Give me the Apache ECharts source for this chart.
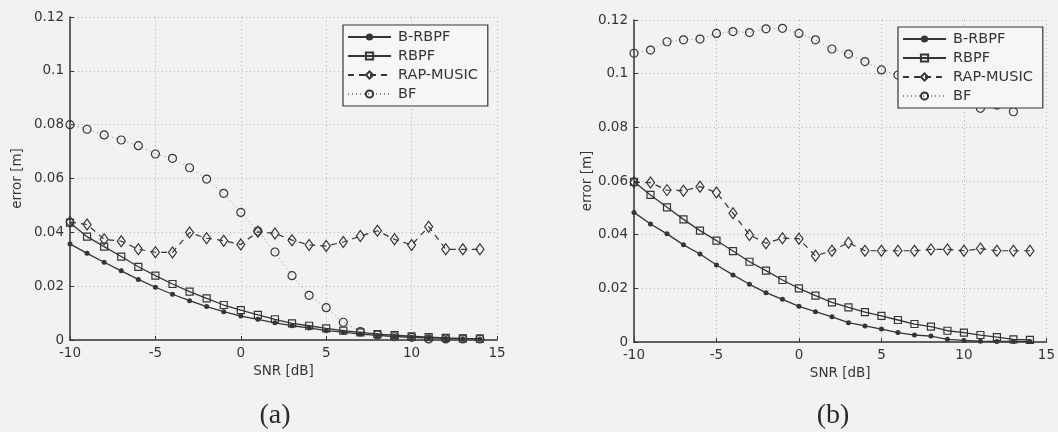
<!DOCTYPE html>
<html>
<head>
<meta charset="utf-8">
<script src="https://cdn.jsdelivr.net/npm/echarts@6/dist/echarts.min.js"></script>
<style>
  html, body { margin: 0; padding: 0; background: #f2f2f2; }
  #chart { width: 1058px; height: 432px; }
</style>
</head>
<body>
<div id="chart"></div>
<script>
// SNR sweep in dB
const snr = [-10, -9, -8, -7, -6, -5, -4, -3, -2, -1, 0, 1, 2, 3, 4, 5, 6, 7, 8, 9, 10, 11, 12, 13, 14];

// Panel (a) localisation error [m]
const bRbpfA = [0.0357, 0.0322, 0.0289, 0.0257, 0.0225, 0.0196, 0.0170, 0.0146, 0.0124, 0.0105, 0.0089, 0.0077, 0.0064, 0.0053, 0.0045, 0.0035, 0.0029, 0.0022, 0.0017, 0.0013, 0.0010, 0.0008, 0.0006, 0.0005, 0.0004];
const rbpfA  = [0.0436, 0.0384, 0.0347, 0.0310, 0.0272, 0.0239, 0.0208, 0.0180, 0.0155, 0.0130, 0.0111, 0.0093, 0.0077, 0.0062, 0.0053, 0.0043, 0.0035, 0.0028, 0.0022, 0.0018, 0.0014, 0.0011, 0.0008, 0.0006, 0.0005];
const rapA   = [0.0438, 0.0429, 0.0374, 0.0367, 0.0337, 0.0326, 0.0325, 0.0399, 0.0378, 0.0369, 0.0355, 0.0402, 0.0396, 0.0371, 0.0353, 0.0349, 0.0364, 0.0386, 0.0406, 0.0374, 0.0353, 0.0421, 0.0337, 0.0337, 0.0337];
const bfA    = [0.0800, 0.0783, 0.0762, 0.0743, 0.0722, 0.0691, 0.0675, 0.0640, 0.0598, 0.0545, 0.0474, 0.0405, 0.0327, 0.0239, 0.0166, 0.0120, 0.0066, 0.0031, 0.0019, 0.0012, 0.0010, 0.0004, 0.0004, 0.0004, 0.0004];

// Panel (b) localisation error [m]
const bRbpfB = [0.0483, 0.0440, 0.0403, 0.0362, 0.0328, 0.0287, 0.0250, 0.0215, 0.0184, 0.0159, 0.0133, 0.0113, 0.0094, 0.0072, 0.0060, 0.0048, 0.0035, 0.0026, 0.0022, 0.0010, 0.0006, 0.0003, 0.0002, 0.0002, 0.0002];
const rbpfB  = [0.0597, 0.0548, 0.0502, 0.0457, 0.0415, 0.0378, 0.0339, 0.0299, 0.0266, 0.0231, 0.0200, 0.0173, 0.0148, 0.0129, 0.0111, 0.0097, 0.0082, 0.0067, 0.0057, 0.0042, 0.0035, 0.0026, 0.0018, 0.0010, 0.0008];
const rapB   = [0.0595, 0.0594, 0.0566, 0.0564, 0.0579, 0.0557, 0.0480, 0.0399, 0.0368, 0.0387, 0.0385, 0.0321, 0.0340, 0.0370, 0.0340, 0.0340, 0.0340, 0.0340, 0.0345, 0.0345, 0.0340, 0.0348, 0.0340, 0.0340, 0.0340];
const bfB    = [0.1076, 0.1088, 0.1119, 0.1126, 0.1129, 0.1150, 0.1157, 0.1153, 0.1167, 0.1169, 0.1150, 0.1126, 0.1092, 0.1073, 0.1045, 0.1014, 0.0995, 0.0970, 0.0945, 0.0920, 0.0895, 0.0871, 0.0883, 0.0858, null];

const seriesNames = ['B-RBPF', 'RBPF', 'RAP-MUSIC', 'BF'];
const xTicks = { min: -10, max: 15, step: 5 };
const yTicks = { min: 0, max: 0.12, step: 0.02 };
const panelLabels = ['(a)', '(b)'];

const INK = '#353535';
const FONT = 'DejaVu Sans';

function pairs(ys) {
  return snr.map((x, i) => [x, ys[i]]);
}

function xAxisFor(gridIndex, gap) {
  return {
    type: 'value', gridIndex: gridIndex,
    min: xTicks.min, max: xTicks.max, interval: xTicks.step,
    name: 'SNR [dB]', nameLocation: 'middle', nameGap: gap,
    nameTextStyle: { color: INK, fontFamily: FONT, fontSize: 13.5 },
    axisLine: { show: true, onZero: false, lineStyle: { color: INK, width: 1.5 } },
    axisTick: { show: true, inside: true, length: 4, lineStyle: { color: INK } },
    axisLabel: { color: INK, fontFamily: FONT, fontSize: 13.5, margin: 6 },
    splitLine: { show: true, lineStyle: { color: '#b4b4b4', type: [1, 3], width: 1 } }
  };
}

function yAxisFor(gridIndex, gap) {
  return {
    type: 'value', gridIndex: gridIndex,
    min: yTicks.min, max: yTicks.max, interval: yTicks.step,
    name: 'error [m]', nameLocation: 'middle', nameGap: gap,
    nameTextStyle: { color: INK, fontFamily: FONT, fontSize: 13.5 },
    axisLine: { show: true, onZero: false, lineStyle: { color: INK, width: 1.5 } },
    axisTick: { show: true, inside: true, length: 4, lineStyle: { color: INK } },
    axisLabel: {
      color: INK, fontFamily: FONT, fontSize: 13.5, margin: 6,
      formatter: v => String(+v.toFixed(2))
    },
    splitLine: { show: true, lineStyle: { color: '#b4b4b4', type: [1, 3], width: 1 } }
  };
}

function panelSeries(idx, bRbpf, rbpf, rap, bf) {
  const common = { type: 'line', xAxisIndex: idx, yAxisIndex: idx, animation: false, clip: false, connectNulls: false };
  return [
    Object.assign({}, common, {
      name: seriesNames[0], data: pairs(bRbpf), z: 5,
      symbol: 'circle', symbolSize: 5,
      lineStyle: { color: INK, width: 1.3, type: 'solid' },
      itemStyle: { color: INK, borderColor: INK, borderWidth: 0 }
    }),
    Object.assign({}, common, {
      name: seriesNames[1], data: pairs(rbpf), z: 4,
      symbol: 'rect', symbolSize: 7,
      lineStyle: { color: INK, width: 1.3, type: 'solid' },
      itemStyle: { color: 'rgba(0,0,0,0)', borderColor: INK, borderWidth: 1.2 }
    }),
    Object.assign({}, common, {
      name: seriesNames[2], data: pairs(rap), z: 3,
      symbol: 'diamond', symbolSize: [8, 11],
      lineStyle: { color: INK, width: 1.2, type: [6, 5] },
      itemStyle: { color: 'rgba(0,0,0,0)', borderColor: INK, borderWidth: 1.2 }
    }),
    Object.assign({}, common, {
      name: seriesNames[3], data: pairs(bf), z: 2,
      symbol: 'circle', symbolSize: 8,
      lineStyle: { color: '#8a8a8a', width: 1, type: [1, 3] },
      itemStyle: { color: 'rgba(0,0,0,0)', borderColor: INK, borderWidth: 1.2 }
    })
  ];
}

function legendFor(left, top) {
  return {
    data: seriesNames, orient: 'vertical', left: left, top: top,
    padding: [4, 10, 4, 4], itemGap: 3, itemWidth: 43, itemHeight: 9,
    backgroundColor: '#f6f6f6', borderColor: INK, borderWidth: 1.2,
    selectedMode: false, z: 10,
    textStyle: { color: INK, fontFamily: FONT, fontSize: 14.5, lineHeight: 16, padding: [0, 0, 0, 2] }
  };
}

const chart = echarts.init(document.getElementById('chart'), null, { renderer: 'canvas' });
chart.setOption({
  backgroundColor: '#f2f2f2',
  animation: false,
  grid: [
    { left: 70, top: 17, width: 427, height: 323 },
    { left: 634, top: 20, width: 415, height: 322 }
  ],
  xAxis: [xAxisFor(0, 24), xAxisFor(1, 23)],
  yAxis: [yAxisFor(0, 46), yAxisFor(1, 40)],
  legend: [legendFor(343, 25), legendFor(898, 27)],
  series: [].concat(
    panelSeries(0, bRbpfA, rbpfA, rapA, bfA),
    panelSeries(1, bRbpfB, rbpfB, rapB, bfB)
  ),
  graphic: [
    { type: 'text', x: 275, y: 416, style: { text: panelLabels[0], font: '28px "Liberation Serif"', fill: '#2a2a2a', align: 'center', verticalAlign: 'middle' } },
    { type: 'text', x: 833, y: 416, style: { text: panelLabels[1], font: '28px "Liberation Serif"', fill: '#2a2a2a', align: 'center', verticalAlign: 'middle' } }
  ]
});
</script>
</body>
</html>
